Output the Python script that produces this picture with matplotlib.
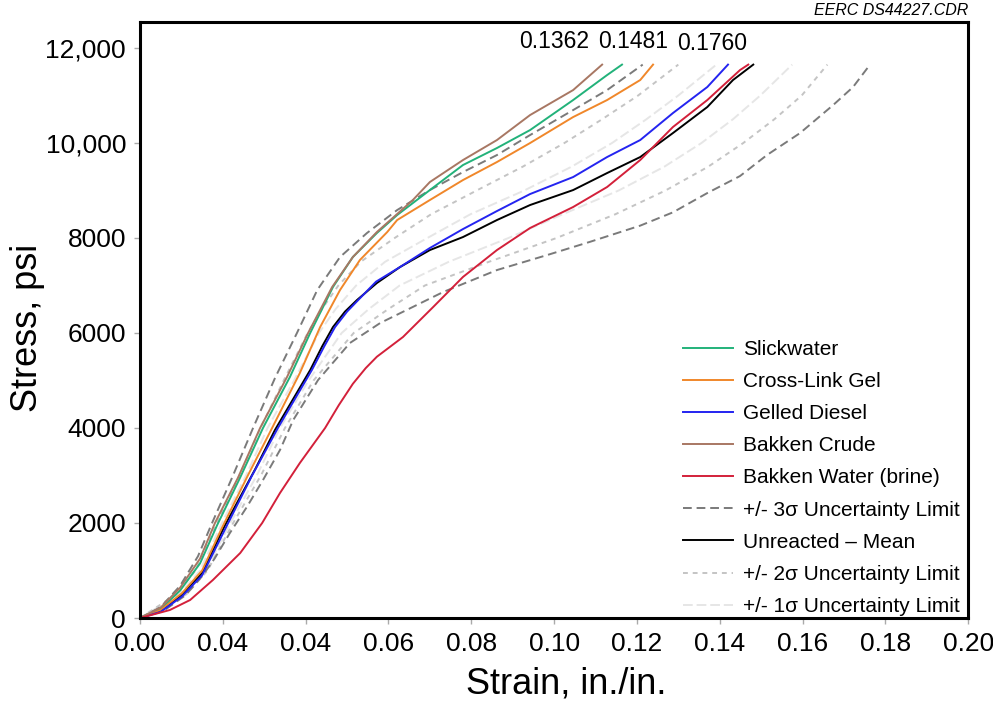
import matplotlib
matplotlib.use("Agg")
import matplotlib.pyplot as plt
from matplotlib.lines import Line2D
from matplotlib.ticker import FixedLocator, FixedFormatter

plt.rcParams['font.family'] = ['Liberation Sans', 'DejaVu Sans']

# ---------------- data (strain in./in., stress psi) ----------------
slick_strain = [0, 0.0050, 0.0097, 0.0145, 0.0186, 0.0242, 0.0297, 0.0362, 0.0411, 0.0466, 0.0514, 0.0572, 0.0621, 0.0700, 0.0780, 0.0862, 0.0942, 0.1046, 0.1128, 0.1164]
slick_stress = [0, 190, 580, 1150, 1950, 2960, 4000, 5073, 6000, 6968, 7599, 8104, 8483, 9009, 9536, 9894, 10272, 10904, 11430, 11650]

gel_strain = [0, 0.0050, 0.0101, 0.0150, 0.0198, 0.0261, 0.0319, 0.0386, 0.0435, 0.0483, 0.0531, 0.0597, 0.0621, 0.0700, 0.0780, 0.0862, 0.0942, 0.1046, 0.1128, 0.1208, 0.1239]
gel_stress = [0, 170, 520, 1000, 1900, 3010, 4000, 5157, 6125, 6904, 7536, 8125, 8378, 8799, 9220, 9599, 9999, 10546, 10904, 11325, 11650]

diesel_strain = [0, 0.0050, 0.0101, 0.0150, 0.0210, 0.0270, 0.0333, 0.0415, 0.0445, 0.0471, 0.0500, 0.0527, 0.0570, 0.0628, 0.0700, 0.0780, 0.0862, 0.0942, 0.1046, 0.1128, 0.1208, 0.1287, 0.1370, 0.1420]
diesel_stress = [0, 130, 450, 900, 1950, 2990, 4000, 5220, 5720, 6125, 6450, 6694, 7080, 7389, 7789, 8188, 8567, 8925, 9283, 9704, 10062, 10630, 11178, 11650]

crude_strain = [0, 0.0050, 0.0097, 0.0145, 0.0181, 0.0237, 0.0290, 0.0355, 0.0406, 0.0464, 0.0514, 0.0572, 0.0659, 0.0700, 0.0780, 0.0862, 0.0942, 0.1046, 0.1116]
crude_stress = [0, 220, 640, 1250, 2000, 2960, 4000, 5073, 6000, 6968, 7599, 8125, 8800, 9178, 9641, 10062, 10588, 11114, 11650]

brine_strain = [0, 0.0072, 0.0121, 0.0176, 0.0242, 0.0295, 0.0338, 0.0386, 0.0447, 0.0480, 0.0514, 0.0545, 0.0572, 0.0635, 0.0708, 0.0780, 0.0862, 0.0942, 0.1046, 0.1128, 0.1208, 0.1287, 0.1370, 0.1449, 0.1469]
brine_stress = [0, 168, 379, 800, 1368, 2000, 2631, 3263, 4000, 4480, 4930, 5260, 5500, 5915, 6547, 7180, 7746, 8210, 8652, 9073, 9641, 10336, 10904, 11535, 11650]

mean_strain = [0, 0.0050, 0.0100, 0.0150, 0.0205, 0.0278, 0.0326, 0.0411, 0.0440, 0.0466, 0.0495, 0.0524, 0.0572, 0.0628, 0.0700, 0.0780, 0.0862, 0.0942, 0.1046, 0.1128, 0.1208, 0.1287, 0.1370, 0.1432, 0.1481]
mean_stress = [0, 140, 480, 950, 1950, 3130, 3960, 5220, 5720, 6125, 6450, 6694, 7052, 7389, 7746, 8020, 8378, 8694, 9009, 9367, 9704, 10209, 10757, 11325, 11650]

s3_up_strain = [0, 0.0050, 0.0097, 0.0140, 0.0174, 0.0222, 0.0273, 0.0326, 0.0379, 0.0428, 0.0483, 0.0548, 0.0621, 0.0700, 0.0780, 0.0862, 0.0942, 0.1046, 0.1128, 0.1214]
s3_up_stress = [0, 230, 680, 1300, 2000, 2947, 4000, 5052, 6000, 6904, 7599, 8104, 8588, 9009, 9388, 9746, 10167, 10693, 11114, 11650]

s3_lo_strain = [0, 0.0060, 0.0110, 0.0150, 0.0180, 0.0217, 0.0258, 0.0297, 0.0338, 0.0370, 0.0430, 0.0507, 0.0580, 0.0732, 0.0862, 0.0983, 0.1087, 0.1208, 0.1287, 0.1370, 0.1449, 0.1514, 0.1594, 0.1674, 0.1722, 0.1763]
s3_lo_stress = [0, 170, 480, 880, 1250, 1789, 2337, 2905, 3536, 4168, 5010, 5790, 6210, 6862, 7325, 7640, 7920, 8260, 8540, 8946, 9304, 9746, 10209, 10799, 11178, 11650]

sig_stress = [0, 500, 1000, 2000, 3000, 4000, 5000, 6000, 6500, 7000, 7500, 8000, 8500, 9000, 9500, 10000, 10500, 11000, 11650]
s2_up_strain = [0, 0.0088, 0.0134, 0.0186, 0.0240, 0.0291, 0.0347, 0.0405, 0.0439, 0.0479, 0.0533, 0.0615, 0.0703, 0.0813, 0.0924, 0.1025, 0.1116, 0.1203, 0.1300]
s2_lo_strain = [0, 0.0112, 0.0163, 0.0225, 0.0292, 0.0350, 0.0419, 0.0516, 0.0599, 0.0688, 0.0843, 0.1006, 0.1148, 0.1269, 0.1372, 0.1457, 0.1532, 0.1598, 0.1660]
s1_up_strain = [0, 0.0095, 0.0145, 0.0198, 0.0256, 0.0308, 0.0372, 0.0432, 0.0472, 0.0522, 0.0592, 0.0694, 0.0798, 0.0928, 0.1042, 0.1140, 0.1223, 0.1300, 0.1392]
s1_lo_strain = [0, 0.0107, 0.0159, 0.0218, 0.0282, 0.0338, 0.0407, 0.0487, 0.0552, 0.0627, 0.0746, 0.0890, 0.1021, 0.1156, 0.1266, 0.1356, 0.1432, 0.1498, 0.1575]

x_ticks = [0.00, 0.02, 0.04, 0.06, 0.08, 0.10, 0.12, 0.14, 0.16, 0.18, 0.20]
x_tick_labels = ['0.00', '0.04', '0.04', '0.06', '0.08', '0.10', '0.12', '0.14', '0.16', '0.18', '0.20']
y_ticks = [0, 2000, 4000, 6000, 8000, 10000, 12000]
y_tick_labels = ['0', '2000', '4000', '6000', '8000', '10,000', '12,000']

annot_text = ['0.1362', '0.1481', '0.1760']
annot_x = [0.1000, 0.1191, 0.1382]
annot_y = [12130, 12130, 12090]

# ---------------- styling ----------------
c_green = '#22b27a'
c_orange = '#f0872a'
c_blue = '#2424f0'
c_brown = '#a87763'
c_red = '#d3203a'
c_3s = '#7a7a7a'
c_2s = '#c4c4c4'
c_1s = '#e6e6e6'
lw = 1.4

fig = plt.figure(figsize=(9.93, 7.05), dpi=100)
ax = fig.add_axes([0.141, 0.1234, 0.834, 0.8454])

# sigma limits
ax.plot(s1_up_strain, sig_stress, color=c_1s, lw=lw, dashes=(5, 2))
ax.plot(s1_lo_strain, sig_stress, color=c_1s, lw=lw, dashes=(5, 2))
ax.plot(s2_up_strain, sig_stress, color=c_2s, lw=lw, dashes=(2.5, 2.5))
ax.plot(s2_lo_strain, sig_stress, color=c_2s, lw=lw, dashes=(2.5, 2.5))
ax.plot(s3_up_strain, s3_up_stress, color=c_3s, lw=lw, dashes=(4.5, 2.5))
ax.plot(s3_lo_strain, s3_lo_stress, color=c_3s, lw=lw, dashes=(4.5, 2.5))
ax.plot(mean_strain, mean_stress, color='black', lw=lw)
ax.plot(slick_strain, slick_stress, color=c_green, lw=lw)
ax.plot(gel_strain, gel_stress, color=c_orange, lw=lw)
ax.plot(diesel_strain, diesel_stress, color=c_blue, lw=lw)
ax.plot(crude_strain, crude_stress, color=c_brown, lw=lw)
ax.plot(brine_strain, brine_stress, color=c_red, lw=lw)

ax.set_xlim(0, 0.20)
ax.set_ylim(0, 12547)
ax.xaxis.set_major_locator(FixedLocator(x_ticks))
ax.xaxis.set_major_formatter(FixedFormatter(x_tick_labels))
ax.yaxis.set_major_locator(FixedLocator(y_ticks))
ax.yaxis.set_major_formatter(FixedFormatter(y_tick_labels))
ax.tick_params(axis='both', direction='out', length=4, width=1, color='#aaaaaa', pad=6)
ax.tick_params(axis='y', labelsize=19)
ax.tick_params(axis='x', labelsize=19)
for sp in ax.spines.values():
    sp.set_linewidth(2.2)
    sp.set_color('black')

ax.set_xlabel('Strain, in./in.', fontsize=26)
ax.set_ylabel('Stress, psi', fontsize=26)
ax.xaxis.set_label_coords(0.5145, -0.082)
ax.yaxis.set_label_coords(-0.115, 0.487)

for t, xx, yy in zip(annot_text, annot_x, annot_y):
    ax.text(xx, yy, t, fontsize=16.5, ha='center', va='center')

fig.text(0.975, 0.996, 'EERC DS44227.CDR', fontsize=11.5, style='italic', ha='right', va='top')

handles = [
    Line2D([], [], color=c_green, lw=lw),
    Line2D([], [], color=c_orange, lw=lw),
    Line2D([], [], color=c_blue, lw=lw),
    Line2D([], [], color=c_brown, lw=lw),
    Line2D([], [], color=c_red, lw=lw),
    Line2D([], [], color=c_3s, lw=lw, dashes=(4.5, 2.5)),
    Line2D([], [], color='black', lw=lw),
    Line2D([], [], color=c_2s, lw=lw, dashes=(2.5, 2.5)),
    Line2D([], [], color=c_1s, lw=lw, dashes=(5, 2)),
]
labels = ['Slickwater', 'Cross-Link Gel', 'Gelled Diesel', 'Bakken Crude', 'Bakken Water (brine)',
          '+/- 3\u03c3 Uncertainty Limit', 'Unreacted \u2013 Mean', '+/- 2\u03c3 Uncertainty Limit',
          '+/- 1\u03c3 Uncertainty Limit']
ax.legend(handles, labels, loc='lower right', bbox_to_anchor=(0.9928, 0.0), frameon=False,
          fontsize=15, handlelength=2.4, handletextpad=0.48, labelspacing=0.63,
          borderpad=0.1, borderaxespad=0.0)

fig.savefig('out.png', dpi=100)
